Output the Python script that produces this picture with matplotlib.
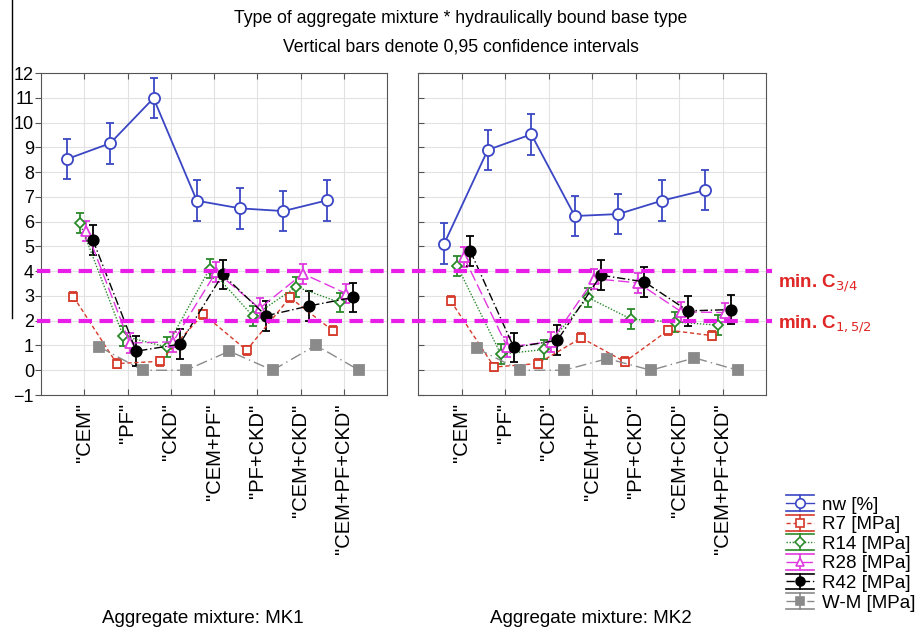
import numpy as np
import matplotlib.pyplot as plt
from matplotlib.lines import Line2D
from matplotlib.legend_handler import HandlerBase

plt.rcParams['font.family'] = ['Liberation Sans', 'DejaVu Sans']
plt.rcParams['font.size'] = 13

categories = ['"CEM"', '"PF"', '"CKD"', '"CEM+PF"', '"PF+CKD"', '"CEM+CKD"', '"CEM+PF+CKD"']
series = ['nw [%]', 'R7 [MPa]', 'R14 [MPa]', 'R28 [MPa]', 'R42 [MPa]', 'W-M [MPa]']

# MK1
mk1_nw = [8.53, 9.17, 10.99, 6.85, 6.54, 6.43, 6.86]
mk1_r7 = [2.97, 0.27, 0.36, 2.27, 0.81, 2.94, 1.59]
mk1_r14 = [5.95, 1.38, 0.94, 4.11, 2.18, 3.37, 2.74]
mk1_r28 = [5.64, 1.10, 1.15, 3.98, 2.50, 3.90, 3.10]
mk1_r42 = [5.26, 0.77, 1.05, 3.87, 2.20, 2.60, 2.94]
mk1_wm = [0.94, 0.0, 0.0, 0.77, 0.0, 1.01, 0.0]

# MK2
mk2_nw = [5.12, 8.90, 9.53, 6.23, 6.31, 6.85, 7.28]
mk2_r7 = [2.80, 0.13, 0.27, 1.31, 0.34, 1.62, 1.40]
mk2_r14 = [4.20, 0.65, 0.84, 2.94, 2.06, 1.95, 1.82]
mk2_r28 = [4.58, 0.94, 1.15, 3.70, 3.53, 2.36, 2.33]
mk2_r42 = [4.81, 0.92, 1.21, 3.84, 3.57, 2.40, 2.45]
mk2_wm = [0.88, 0.0, 0.0, 0.47, 0.0, 0.50, 0.0]

# half-widths of the 0.95 confidence intervals
ci = [0.82, 0.18, 0.40, 0.40, 0.60, 0.0]

colors = ['#3a46c4', '#d63a2a', '#2a8a2a', '#e038e0', '#000000', '#8a8a8a']
styles = ['-', (0, (3, 2)), (0, (1, 1.2)), (0, (8, 3)), (0, (6, 2, 1, 2)), (0, (8, 3, 1, 3))]
markers = ['o', 's', 'D', '^', 'o', 's']
filled = [False, False, False, False, True, True]
msizes = [8, 6, 5.5, 7, 7.5, 6.5]
offsets = [-0.4, -0.25, -0.1, 0.05, 0.2, 0.35]

panels = [
    ('Aggregate mixture: MK1', [mk1_nw, mk1_r7, mk1_r14, mk1_r28, mk1_r42, mk1_wm]),
    ('Aggregate mixture: MK2', [mk2_nw, mk2_r7, mk2_r14, mk2_r28, mk2_r42, mk2_wm]),
]


class ErrHandler(HandlerBase):
    # legend key in the style of the original: line + marker with error bar caps
    def create_artists(self, legend, orig, xdescent, ydescent, width, height, fontsize, trans):
        x0, x1 = -xdescent, -xdescent + width
        xc = (x0 + x1) / 2
        yc = height / 2 - ydescent
        dy = height * 0.6
        c = orig.get_color()
        mid = Line2D([x0, x1], [yc, yc])
        mid.update_from(orig)
        mid.set_marker('None')
        top = Line2D([x0, x1], [yc + dy, yc + dy], color=c, lw=1.2)
        bot = Line2D([x0, x1], [yc - dy, yc - dy], color=c, lw=1.2)
        vert = Line2D([xc, xc], [yc - dy, yc + dy], color=c, lw=1.2)
        mk = Line2D([xc], [yc], ls='None', marker=orig.get_marker(), ms=orig.get_markersize() * 0.85,
                    mfc=orig.get_markerfacecolor(), mec=c, mew=1.2)
        arts = [mid, top, bot, vert, mk]
        for a in arts:
            a.set_transform(trans)
        return arts


fig = plt.figure(figsize=(9.21, 6.31), dpi=100)
ax1 = fig.add_axes([0.0445, 0.374, 0.376, 0.510])
ax2 = fig.add_axes([0.454, 0.374, 0.378, 0.510])
x = np.arange(1, len(categories) + 1)

for ax, (sub, data) in zip([ax1, ax2], panels):
    for i, vals in enumerate(data):
        mfc = colors[i] if filled[i] else 'white'
        ax.errorbar(x + offsets[i], vals, yerr=ci[i] if ci[i] > 0 else None,
                    color=colors[i], ls=styles[i], lw=1.3 if i == 0 else 1.0,
                    marker=markers[i], ms=msizes[i], mfc=mfc, mec=colors[i], mew=1.3,
                    elinewidth=1.3, capsize=3, zorder=3)
    ax.set_xlim(0, 8)
    ax.set_ylim(-1, 12)
    ax.set_yticks(range(-1, 13))
    ax.set_xticks(x)
    ax.set_xticklabels(categories, rotation=90, fontsize=14.5)
    ax.grid(True, color='#e2e2e2', lw=0.8)
    ax.set_axisbelow(True)
    for s in ax.spines.values():
        s.set_color('#555555')
    ax.tick_params(axis='both', length=4, colors='#555555', labelcolor='black', labelsize=13)
    ax.tick_params(axis='x', top=True, direction='in', pad=6, labelsize=14.5)

ax2.tick_params(axis='y', labelleft=False, direction='in')
ax1.tick_params(axis='y', pad=1)

fig.text(0.220, 0.020, panels[0][0], ha='center', va='center', fontsize=13.5)
fig.text(0.642, 0.020, panels[1][0], ha='center', va='center', fontsize=13.5)

# limit lines across both panels
to_fig = fig.transFigure.inverted()
for yv, lab, dyl in [(4, r'min. C$_{3/4}$', -0.018), (2, r'min. C$_{1,5/2}$', -0.006)]:
    yfig = to_fig.transform(ax1.transData.transform((0, yv)))[1]
    fig.add_artist(Line2D([0.04, 0.838], [yfig, yfig], transform=fig.transFigure,
                          color='#e81ee8', lw=3, ls=(0, (3.2, 1.8)), zorder=5))
    fig.text(0.845, yfig + dyl, lab, color='#e02525', fontsize=13.5, fontweight='bold', va='center')

# stray vertical bar on the left edge
fig.add_artist(Line2D([0.013, 0.013], [0.496, 1.0], transform=fig.transFigure, color='black', lw=1.0))

fig.text(0.5, 0.970, 'Type of aggregate mixture * hydraulically bound base type', ha='center', va='center', fontsize=12.7)
fig.text(0.5, 0.926, 'Vertical bars denote 0,95 confidence intervals', ha='center', va='center', fontsize=12.7)

proxies = []
for i in range(len(series)):
    proxies.append(Line2D([], [], color=colors[i], ls=styles[i], lw=1.0,
                          marker=markers[i], ms=msizes[i],
                          mfc=colors[i] if filled[i] else 'white', mec=colors[i]))
fig.legend(proxies, series, handler_map={Line2D: ErrHandler()}, loc='upper left',
           bbox_to_anchor=(0.853, 0.213), frameon=False, borderpad=0, borderaxespad=0,
           fontsize=13.5, handlelength=1.5, handletextpad=0.45, labelspacing=0.13)

fig.savefig('out.png', dpi=100)
